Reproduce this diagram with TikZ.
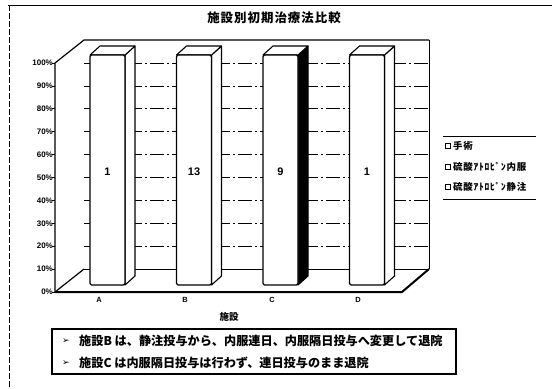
\documentclass[tikz,border=0pt]{standalone}
\usepackage{fontspec}
\setmainfont{Liberation Sans}
\newfontfamily\jp{Noto Sans CJK JP}
\newfontfamily\jpwide{Noto Sans CJK JP}[LetterSpace=8]
\newfontfamily\dv{DejaVu Sans}
\begin{document}
\begin{tikzpicture}[x=1bp,y=-1bp,
  lbl/.style={font=\bfseries\fontsize{8}{9}\selectfont, inner sep=0, anchor=east},
  cat/.style={font=\bfseries\fontsize{7.5}{8}\selectfont, inner sep=0},
  gridln/.style={line width=0.6bp, dash pattern=on 14bp off 3bp on 2bp off 3bp},
  barface/.style={fill=white, draw=black, line width=1.1bp, line join=round},
  barlabel/.style={font=\bfseries\fontsize{11}{12}\selectfont, inner sep=0},
  legtext/.style={font=\jpwide\bfseries\fontsize{9.5}{10}\selectfont, inner sep=0, anchor=west},
  notetext/.style={font=\jp\bfseries\fontsize{12.2}{13}\selectfont, inner sep=0, anchor=west},
  arrowsym/.style={font=\dv\bfseries\fontsize{9}{10}\selectfont, inner sep=0}]
\useasboundingbox (0,0) rectangle (552,388);
% outer frame
\draw[line width=1bp] (8,5) -- (552,5);
\draw[line width=0.8bp, dash pattern=on 6bp off 2bp] (9,5) -- (9,388);
% title
\node[font=\jpwide\bfseries\fontsize{12.5}{13}\selectfont, inner sep=0] (title) at (274,18) {施設別初期治療法比較};
% back wall gridlines
\foreach \k in {1,...,9} \draw[gridln] (84,{40+22.9*\k}) -- (429,{40+22.9*\k});
% walls
\draw[line width=1.2bp, line join=round] (55,292) -- (55,63) -- (84,40) -- (429,40);
\draw[line width=0.8bp] (429,40) -- (429,269);
% floor
\draw[line width=0.8bp] (84,269) -- (429,269);
\draw[line width=1.2bp] (55,292) -- (84,269);
\draw[line width=2bp, line join=round] (55,292) -- (402,292) -- (429,269);
% y axis labels and ticks
\foreach \k in {0,...,10} {
  \pgfmathtruncatemacro\p{100-10*\k}
  \draw[line width=0.8bp] (52,{63+22.9*\k}) -- (55,{63+22.9*\k});
  \node[lbl] (y\k) at (53,{63+22.9*\k}) {\p\%};
}
% bars
\foreach \L/\t/\s [count=\i] in {90/1/white, 176.5/13/white, 263/9/black, 349.5/1/white} {
  \draw[barface, fill=\s] (\L+35,285) -- (\L+45,276) -- (\L+45,46) -- (\L+35,55) -- cycle;
  \draw[barface] (\L,55) -- (\L+10,46) -- (\L+45,46) -- (\L+35,55) -- cycle;
  \draw[barface, rounded corners=1.5bp] (\L,285) rectangle (\L+35,55);
  \node[barlabel] (v\i) at (\L+17.5,172) {\t};
}
% category labels
\node[cat] (ca) at (99,300) {A};
\node[cat] (cb) at (185,300) {B};
\node[cat] (cc) at (272,300) {C};
\node[cat] (cd) at (358,300) {D};
\node[font=\jp\bfseries\fontsize{9.5}{10}\selectfont, inner sep=0] (xt) at (229,317) {施設};
% legend
\draw[line width=1bp] (443,136) -- (536,136);
\draw[line width=1bp] (443,199) -- (536,199);
\draw[line width=0.7bp] (445.5,143.5) rectangle (450.5,148.5);
\draw[line width=1.4bp] (445.5,164.5) rectangle (450.5,169.5);
\draw[line width=1.4bp] (445.5,184.5) rectangle (450.5,189.5);
\node[legtext] (l1) at (453,146) {手術};
\node[legtext] (l2) at (453,167) {硫酸ｱﾄﾛﾋﾟﾝ内服};
\node[legtext] (l3) at (453,187) {硫酸ｱﾄﾛﾋﾟﾝ静注};
% note box
\draw[line width=2bp] (52,329) rectangle (456,374);
\node[arrowsym] (a1) at (66,341) {➢};
\node[arrowsym] (a2) at (66,363) {➢};
\node[notetext] (n1) at (79,341) {施設B は、静注投与から、内服連日、内服隔日投与へ変更して退院};
\node[notetext] (n2) at (79,363) {施設C は内服隔日投与は行わず、連日投与のまま退院};
\end{tikzpicture}
\end{document}
